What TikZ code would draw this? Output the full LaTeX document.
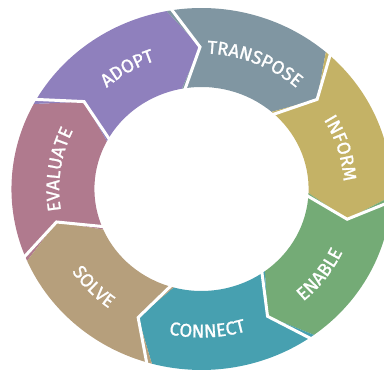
\documentclass[tikz,border=0pt]{standalone}
\usepackage{fontspec}
\newfontfamily\lblfont{Fira Sans}[BoldFont=*, BoldFeatures={FakeBold=1.2}]
\usetikzlibrary{decorations.text}
\definecolor{cAdopt}{HTML}{8F80BD}
\definecolor{cTranspose}{HTML}{8096A2}
\definecolor{cInform}{HTML}{C4B266}
\definecolor{cEnable}{HTML}{74AB76}
\definecolor{cConnect}{HTML}{47A0B0}
\definecolor{cSolve}{HTML}{B69F7C}
\definecolor{cEvaluate}{HTML}{B07A8E}
% point on the (slightly wide) ring: #1 angle, #2 radius
\newcommand\ep[2]{({201.5+1.05*(#2)*cos(#1)},{185+(#2)*sin(#1)})}
% one arrow segment: #1 start boundary angle, #2 colour
\newcommand\ringseg[2]{%
  \fill[#2] \ep{#1}{181} arc[start angle=#1, end angle=#1-51.43, x radius=190.05, y radius=181]
    -- \ep{#1-61.43}{142} -- \ep{#1-51.43}{102}
    arc[start angle=#1-51.43, end angle=#1, x radius=107.1, y radius=102]
    -- \ep{#1-10}{142} -- cycle;}
\newcommand\gapline[1]{%
  \draw[gap] \ep{#1}{192} -- \ep{#1-10}{142} -- \ep{#1}{96};}
\newcommand\lblfmt{\lblfont\bfseries\fontsize{18.5}{20}\selectfont}
% label in upper half (reads clockwise)
\newcommand\toplbl[2]{%
  \path[decorate, decoration={text along path, text={|\lblfmt|#2}, text align=center, text color=white}]
    \ep{#1+45}{135.5} arc[start angle=#1+45, end angle=#1-45, x radius=142.275, y radius=135.5];}
% label in lower half (reads counter-clockwise)
\newcommand\botlbl[2]{%
  \path[decorate, decoration={text along path, text={|\lblfmt|#2}, text align=center, text color=white}]
    \ep{#1-45}{148.5} arc[start angle=#1-45, end angle=#1+45, x radius=155.925, y radius=148.5];}
\begin{document}
\begin{tikzpicture}[x=1pt, y=1pt, gap/.style={white, line width=3pt}]
\path[use as bounding box] (0,0) rectangle (384,374);
\clip (0,0) rectangle (384,374);
\ringseg{203.43}{cEvaluate}
\ringseg{152}{cAdopt}
\ringseg{100.57}{cTranspose}
\ringseg{49.14}{cInform}
\ringseg{-2.29}{cEnable}
\ringseg{-53.71}{cConnect}
\ringseg{-105.14}{cSolve}
\gapline{152}
\gapline{100.57}
\gapline{49.14}
\gapline{-2.29}
\gapline{-53.71}
\gapline{-105.14}
\gapline{-156.57}
\toplbl{121}{ADOPT}
\toplbl{67.6}{TRANSPOSE}
\toplbl{16.6}{INFORM}
\botlbl{-36.6}{ENABLE}
\botlbl{-87.7}{CONNECT}
\botlbl{-137}{SOLVE}
\toplbl{172}{EVALUATE}
\end{tikzpicture}
\end{document}
